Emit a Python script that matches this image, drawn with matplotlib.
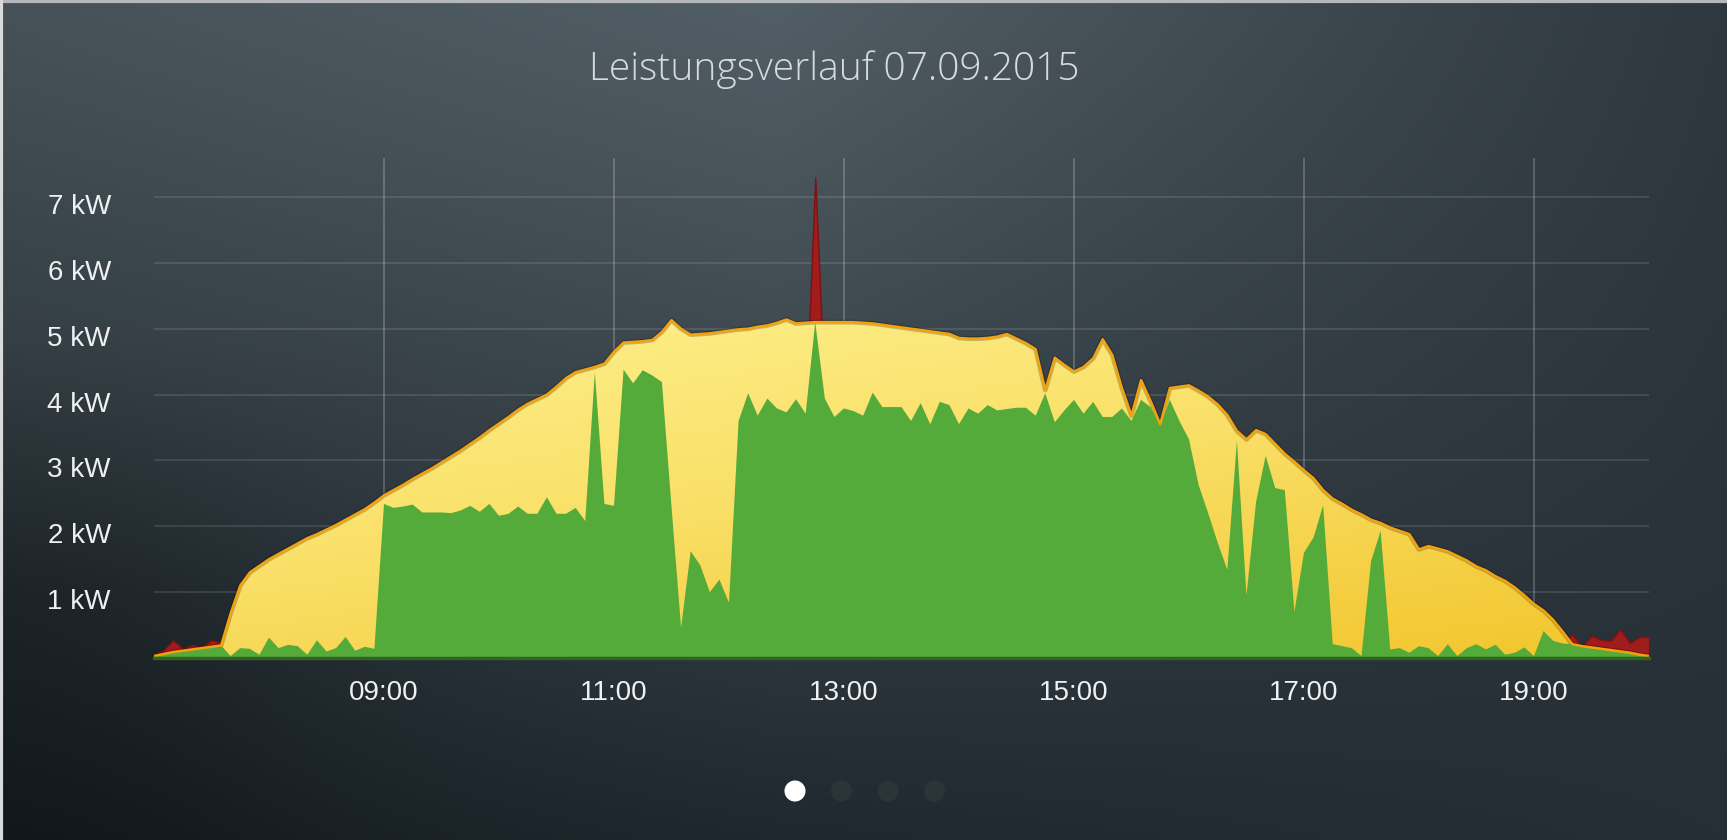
import numpy as np
import matplotlib.pyplot as plt
from matplotlib.colors import LinearSegmentedColormap
from matplotlib.patches import PathPatch
from matplotlib.path import Path
from matplotlib.transforms import ScaledTranslation

title = 'Leistungsverlauf 07.09.2015'

# 5-minute samples from 07:00 to 20:00, values in kW
start_hour = 7
step_min = 5

production = [
    0.03, 0.06, 0.09, 0.11, 0.13, 0.15, 0.17, 0.19, 0.68, 1.10, 1.30, 1.40,  # 07
    1.50, 1.58, 1.66, 1.74, 1.82, 1.88, 1.95, 2.02, 2.10, 2.18, 2.26, 2.36,  # 08
    2.47, 2.55, 2.63, 2.72, 2.80, 2.88, 2.97, 3.06, 3.15, 3.25, 3.35, 3.46,  # 09
    3.56, 3.66, 3.77, 3.86, 3.93, 4.00, 4.12, 4.25, 4.34, 4.38, 4.42, 4.47,  # 10
    4.65, 4.79, 4.80, 4.81, 4.83, 4.95, 5.13, 5.00, 4.91, 4.92, 4.93, 4.95,  # 11
    4.97, 4.99, 5.00, 5.03, 5.05, 5.09, 5.14, 5.08, 5.09, 5.10, 5.10, 5.10,  # 12
    5.10, 5.10, 5.09, 5.08, 5.06, 5.04, 5.02, 5.00, 4.98, 4.96, 4.94, 4.92,  # 13
    4.86, 4.85, 4.85, 4.86, 4.88, 4.92, 4.85, 4.78, 4.69, 4.07, 4.56, 4.45,  # 14
    4.35, 4.42, 4.55, 4.84, 4.60, 4.10, 3.68, 4.22, 3.90, 3.55, 4.10, 4.12,  # 15
    4.14, 4.06, 3.97, 3.85, 3.69, 3.45, 3.32, 3.46, 3.40, 3.25, 3.10, 2.98,  # 16
    2.85, 2.73, 2.55, 2.42, 2.34, 2.25, 2.18, 2.10, 2.05, 1.98, 1.93, 1.88,  # 17
    1.65, 1.70, 1.66, 1.62, 1.55, 1.48, 1.39, 1.33, 1.24, 1.17, 1.07, 0.95,  # 18
    0.82, 0.72, 0.58, 0.40, 0.21, 0.18, 0.16, 0.14, 0.12, 0.10, 0.08, 0.05,  # 19
    0.03,                                                                    # 20
]

consumption = [
    0.05, 0.12, 0.27, 0.14, 0.20, 0.17, 0.27, 0.24, 0.03, 0.15, 0.14, 0.05,  # 07
    0.31, 0.15, 0.20, 0.18, 0.05, 0.27, 0.10, 0.15, 0.32, 0.11, 0.17, 0.14,  # 08
    2.34, 2.28, 2.30, 2.33, 2.21, 2.21, 2.21, 2.20, 2.24, 2.31, 2.22, 2.34,  # 09
    2.16, 2.19, 2.30, 2.19, 2.19, 2.44, 2.19, 2.19, 2.28, 2.08, 4.34, 2.34,  # 10
    2.31, 4.38, 4.17, 4.37, 4.29, 4.19, 2.30, 0.46, 1.62, 1.41, 1.00, 1.19,  # 11
    0.84, 3.60, 4.02, 3.68, 3.94, 3.79, 3.73, 3.93, 3.71, 7.30, 3.94, 3.66,  # 12
    3.79, 3.75, 3.68, 4.03, 3.81, 3.81, 3.81, 3.60, 3.87, 3.55, 3.89, 3.84,  # 13
    3.55, 3.79, 3.71, 3.84, 3.76, 3.78, 3.80, 3.80, 3.68, 4.02, 3.58, 3.76,  # 14
    3.92, 3.71, 3.89, 3.66, 3.66, 3.79, 3.60, 3.92, 3.81, 3.53, 3.92, 3.60,  # 15
    3.32, 2.63, 2.20, 1.75, 1.34, 3.30, 0.95, 2.37, 3.07, 2.58, 2.55, 0.70,  # 16
    1.60, 1.83, 2.32, 0.21, 0.18, 0.15, 0.03, 1.47, 1.93, 0.13, 0.15, 0.08,  # 17
    0.18, 0.15, 0.03, 0.21, 0.03, 0.15, 0.21, 0.13, 0.20, 0.05, 0.08, 0.16,  # 18
    0.03, 0.41, 0.26, 0.22, 0.36, 0.18, 0.34, 0.28, 0.26, 0.44, 0.23, 0.32,  # 19
    0.32,                                                                    # 20
]

y_ticks = [1, 2, 3, 4, 5, 6, 7]
y_labels = ['1 kW', '2 kW', '3 kW', '4 kW', '5 kW', '6 kW', '7 kW']
x_ticks = [9, 11, 13, 15, 17, 19]
x_labels = ['09:00', '11:00', '13:00', '15:00', '17:00', '19:00']
page_count = 4
active_page = 0

hours = start_hour + np.arange(len(production)) * step_min / 60
prod = np.array(production)
cons = np.array(consumption)
own = np.minimum(prod, cons)

W, H = 1727, 840
fig = plt.figure(figsize=(W / 100, H / 100), dpi=100)

# background gradient
bg = fig.add_axes([0, 0, 1, 1])
gx, gy = np.meshgrid(np.linspace(0, 1, 240), np.linspace(0, 1, 120))
top_l = np.array([70, 82, 88]) / 255
top_c = np.array([82, 94, 101]) / 255
top_r = np.array([46, 56, 62]) / 255
bot_l = np.array([22, 30, 35]) / 255
bot_c = np.array([31, 40, 46]) / 255
bot_r = np.array([38, 47, 53]) / 255
def across(l, c, r):
    a = np.clip(gx / 0.45, 0, 1)[..., None]
    b = np.clip((gx - 0.45) / 0.55, 0, 1)[..., None]
    return np.where(gx[..., None] < 0.45, l * (1 - a) + c * a, c * (1 - b) + r * b)
top = across(top_l, top_c, top_r)
bot = across(bot_l, bot_c, bot_r)
w = (gy ** 1.1)[..., None]
img = top * (1 - w) + bot * w
dark = 0.22 * np.exp(-(gx / 0.18) ** 2) * np.clip((gy - 0.4) / 0.3, 0, 1)
img = img * (1 - dark[..., None])
bg.imshow(img, extent=[0, W, H, 0], aspect='auto', interpolation='bilinear')
bg.set_xlim(0, W)
bg.set_ylim(H, 0)
bg.axis('off')
bg.axhline(1.2, color='#b4b8ba', lw=3)
bg.axvline(1.2, color='#d8dadb', lw=3)

# page dots
dot_x = 795 + 46.5 * np.arange(page_count)
dot_c = ['white' if i == active_page else '#2b3439' for i in range(page_count)]
bg.scatter(dot_x, [791] * page_count, s=230, c=dot_c, linewidths=0, zorder=3)

fig.text(834 / W, 1 - 80 / H, title, ha='center', va='baseline', fontsize=28,
         family='Open Sans', weight='light', color='#d6dadc')

# chart
ax = fig.add_axes([154 / W, 1 - 658 / H, 1495 / W, 500.5 / H])
ax.patch.set_alpha(0)

for v in y_ticks:
    ax.axhline(v, color='white', alpha=0.12, lw=1.3, zorder=0)
for h in x_ticks:
    ax.axvline(h, color='white', alpha=0.22, lw=1.3, zorder=0)

# consumption (red shows where it exceeds production)
ax.fill_between(hours, 0, cons, facecolor='#a11c1c', edgecolor='#7c1212', lw=1, zorder=1)

# production with gradient fill
verts = [(hours[0], 0)] + list(zip(hours, prod)) + [(hours[-1], 0), (hours[0], 0)]
clip = PathPatch(Path(verts, closed=True), transform=ax.transData,
                 facecolor='none', edgecolor='none')
ax.add_patch(clip)
yellow = LinearSegmentedColormap.from_list('yel', ['#fef291', '#f9df66', '#f2c52c'])
tt, vv = np.meshgrid(np.linspace(7, 20, 200), np.linspace(0, 5.3, 100))
grad = 0.6 * (1 - vv / 5.3) + 0.4 * (tt - 7) / 13
im = ax.imshow(grad, extent=[7, 20, 0, 5.3], origin='lower', aspect='auto',
               cmap=yellow, vmin=0, vmax=1, zorder=2, interpolation='bilinear')
im.set_clip_path(clip)
ax.plot(hours, prod, color=(0, 0, 0, 0.22), lw=3.5, zorder=3)
ax.plot(hours, prod, color='#f2a20f', lw=1.8, zorder=5)

# own consumption
ax.fill_between(hours, 0, own, facecolor='#55ab3a', lw=0, zorder=4)
ax.plot([7, 20], [0, 0], color='#2f6424', lw=2.5, zorder=6, clip_on=False)

ax.set_xlim(7, 20)
ax.set_ylim(0, 7.6)
ax.set_yticks(y_ticks, y_labels)
ax.set_xticks(x_ticks, x_labels)
ax.tick_params(length=0, labelsize=20, labelcolor='#eef0f1')
ax.tick_params(axis='y', pad=31)
ax.tick_params(axis='x', pad=16)
for lab in ax.get_xticklabels() + ax.get_yticklabels():
    lab.set_family('Liberation Sans')
for lab in ax.get_yticklabels():
    lab.set_transform(lab.get_transform() + ScaledTranslation(0, -5 / 72, fig.dpi_scale_trans))
for s in ax.spines.values():
    s.set_visible(False)

fig.savefig('out.png', dpi=100)
